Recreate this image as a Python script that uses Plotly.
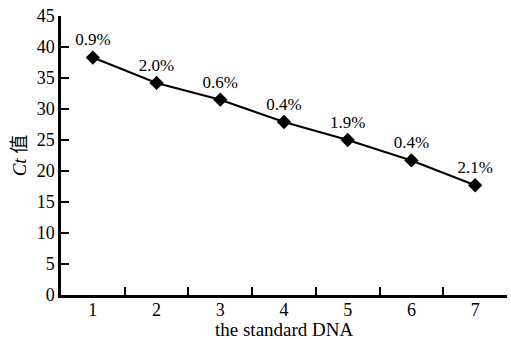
import plotly.graph_objects as go

categories = ["1", "2", "3", "4", "5", "6", "7"]
ct_values = [38.3, 34.2, 31.5, 27.9, 25.0, 21.7, 17.7]
cv_labels = ["0.9%", "2.0%", "0.6%", "0.4%", "1.9%", "0.4%", "2.1%"]
y_ticks = [0, 5, 10, 15, 20, 25, 30, 35, 40, 45]

font = "Liberation Serif, Times New Roman, serif"

fig = go.Figure()
fig.add_trace(go.Scatter(
    x=categories, y=ct_values, text=cv_labels,
    mode="lines+markers+text", textposition="top center",
    textfont=dict(family=font, size=17, color="black"),
    line=dict(color="black", width=2.2),
    marker=dict(symbol="diamond", size=11, color="black"),
    cliponaxis=False, showlegend=False,
))

fig.update_layout(
    width=511, height=339,
    margin=dict(l=61, r=4, t=16, b=44),
    paper_bgcolor="white", plot_bgcolor="white",
    font=dict(family=font, size=18, color="black"),
)
fig.update_xaxes(
    type="category", range=[-0.5, 6.5],
    tickson="boundaries", ticks="inside", ticklen=8, tickwidth=2, tickcolor="black",
    showline=True, linewidth=2.5, linecolor="black", showgrid=False, zeroline=False,
    tickfont=dict(family=font, size=18), ticklabelstandoff=-3,
)
fig.add_annotation(
    text="the standard DNA", xref="paper", yref="paper", x=0.5, y=0,
    yshift=-34, yanchor="middle", showarrow=False,
    font=dict(family=font, size=19, color="black"),
)
fig.update_yaxes(
    range=[0, 45], tickvals=y_ticks, ticks="inside", ticklen=8, tickwidth=2, tickcolor="black",
    showline=True, linewidth=2.5, linecolor="black", showgrid=False, zeroline=False,
    title=dict(text="<i>Ct</i> 值", font=dict(family=font + ", Noto Sans CJK SC", size=19), standoff=6),
    tickfont=dict(family=font, size=18),
)

fig.write_html("out.html")
